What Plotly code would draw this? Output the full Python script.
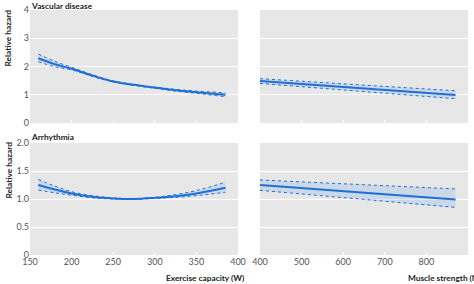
import plotly.graph_objects as go

# Exercise capacity (W) - vascular disease
ex_x = [160, 180, 200, 225, 250, 275, 300, 325, 350, 385]
vasc_ex = [2.29, 2.08, 1.92, 1.68, 1.47, 1.35, 1.25, 1.16, 1.09, 1.00]
vasc_ex_hi = [2.44, 2.18, 1.97, 1.71, 1.49, 1.37, 1.27, 1.19, 1.13, 1.07]
vasc_ex_lo = [2.17, 1.99, 1.88, 1.65, 1.45, 1.33, 1.23, 1.13, 1.05, 0.93]

# Muscle strength (N) - vascular disease
ms_x = [400, 870]
vasc_ms = [1.49, 0.99]
vasc_ms_hi = [1.57, 1.14]
vasc_ms_lo = [1.40, 0.86]

# Arrhythmia
arr_ex = [1.25, 1.17, 1.10, 1.04, 1.01, 1.00, 1.02, 1.05, 1.10, 1.20]
arr_ex_hi = [1.35, 1.23, 1.13, 1.06, 1.02, 1.005, 1.03, 1.08, 1.15, 1.30]
arr_ex_lo = [1.16, 1.11, 1.07, 1.02, 1.00, 0.995, 1.01, 1.03, 1.06, 1.12]

arr_ms = [1.25, 0.99]
arr_ms_hi = [1.34, 1.18]
arr_ms_lo = [1.155, 0.85]

BLUE = "#1f6fd6"
BAND = "rgba(120,170,235,0.25)"
BG = "#e7e7e7"
FONT = "Lato"

W, H = 474, 284
def px(x): return x / W
def py(y): return 1 - y / H

fig = go.Figure()

def add_panel(x, c, hi, lo, xa, ya):
    fig.add_trace(go.Scatter(x=x, y=lo, mode="lines", line=dict(color=BLUE, width=1, dash="dot", shape="spline"),
                             xaxis=xa, yaxis=ya, showlegend=False, hoverinfo="skip"))
    fig.add_trace(go.Scatter(x=x, y=hi, mode="lines", line=dict(color=BLUE, width=1, dash="dot", shape="spline"),
                             fill="tonexty", fillcolor=BAND,
                             xaxis=xa, yaxis=ya, showlegend=False, hoverinfo="skip"))
    fig.add_trace(go.Scatter(x=x, y=c, mode="lines", line=dict(color=BLUE, width=2, shape="spline"),
                             xaxis=xa, yaxis=ya, showlegend=False))

add_panel(ex_x, vasc_ex, vasc_ex_hi, vasc_ex_lo, "x", "y")
add_panel(ms_x, vasc_ms, vasc_ms_hi, vasc_ms_lo, "x2", "y2")
add_panel(ex_x, arr_ex, arr_ex_hi, arr_ex_lo, "x3", "y3")
add_panel(ms_x, arr_ms, arr_ms_hi, arr_ms_lo, "x4", "y4")

left_dom = [px(30), px(238)]
right_dom = [px(260), px(468)]
top_dom = [py(123), py(10)]
bot_dom = [py(255), py(143)]

tickfont = dict(family=FONT, size=9, color="#555")
xcommon = dict(showgrid=False, zeroline=False, showline=False, ticks="inside", ticklen=3,
               tickcolor="white", tickfont=tickfont, automargin=False)
ycommon = dict(showgrid=True, gridcolor="white", gridwidth=1, zeroline=False, showline=False,
               ticks="", tickfont=tickfont, automargin=False)

fig.update_layout(
    width=W, height=H,
    margin=dict(l=0, r=0, t=0, b=0),
    paper_bgcolor="white", plot_bgcolor=BG,
    xaxis=dict(domain=left_dom, anchor="y", range=[150, 400], dtick=50, showticklabels=False, **xcommon),
    yaxis=dict(domain=top_dom, anchor="x", range=[0, 4], dtick=1, **ycommon),
    xaxis2=dict(domain=right_dom, anchor="y2", range=[400, 900], dtick=100, showticklabels=False, **xcommon),
    yaxis2=dict(domain=top_dom, anchor="x2", range=[0, 4], dtick=1, showticklabels=False, **ycommon),
    xaxis3=dict(domain=left_dom, anchor="y3", range=[150, 400], dtick=50, **xcommon),
    yaxis3=dict(domain=bot_dom, anchor="x3", range=[0, 2], tickvals=[0, 0.5, 1, 1.5, 2],
                ticktext=["0", "0.5", "1.0", "1.5", "2.0"], **ycommon),
    xaxis4=dict(domain=right_dom, anchor="y4", range=[400, 900], dtick=100, **xcommon),
    yaxis4=dict(domain=bot_dom, anchor="x4", range=[0, 2], tickvals=[0, 0.5, 1, 1.5, 2],
                showticklabels=False, **ycommon),
)

bold = dict(family=FONT, size=8.3, color="#222")
ann = [
    dict(text="<b>Vascular disease</b>", x=px(29), y=py(-1), xanchor="left", yanchor="top"),
    dict(text="<b>Arrhythmia</b>", x=px(29), y=py(130), xanchor="left", yanchor="top"),
    dict(text="<b>Relative hazard</b>", x=px(1), y=py(8), xanchor="left", yanchor="top", textangle=-90),
    dict(text="<b>Relative hazard</b>", x=px(1), y=py(140), xanchor="left", yanchor="top", textangle=-90),
    dict(text="<b>Exercise capacity (W)</b>", x=px(246), y=py(285), xanchor="right", yanchor="bottom"),
    dict(text="<b>Muscle strength (N)</b>", x=px(406), y=py(285), xanchor="left", yanchor="bottom"),
]
for a in ann:
    fig.add_annotation(xref="paper", yref="paper", showarrow=False, font=bold, **a)

fig.write_html("out.html")
